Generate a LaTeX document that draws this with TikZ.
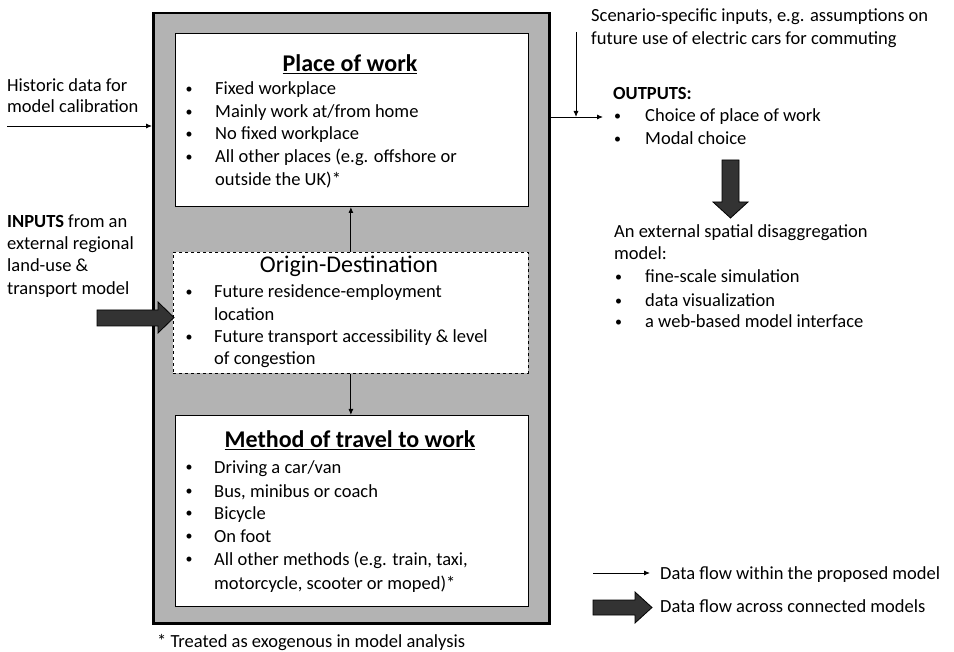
\documentclass[tikz,border=0pt]{standalone}
\usepackage{fontspec}
\setmainfont{Carlito}
\usetikzlibrary{arrows.meta}
\definecolor{boxgray}{HTML}{B3B3B3}
\definecolor{bigarr}{HTML}{333333}
\begin{document}
\begin{tikzpicture}[x=1pt,y=-1pt,
 txt/.style={anchor=base west, inner sep=0pt, font=\fontsize{18.5}{22}\selectfont},
 bul/.style={anchor=base west, inner sep=0pt, yshift=1.2pt, xshift=1pt, font=\fontsize{14}{16}\selectfont},
 ttl/.style={anchor=base, inner sep=0pt, font=\fontsize{24}{28}\selectfont\bfseries},
 ttlr/.style={anchor=base, inner sep=0pt, font=\fontsize{24}{28}\selectfont},
 arr/.style={-{Latex[length=6pt,width=5pt]}, line width=0.9pt},
 bigarrow/.style={fill=bigarr, draw=black, line width=0.8pt},
 outerbox/.style={draw=black, fill=boxgray, line width=2.5pt, anchor=north west, inner sep=0pt},
 innerbox/.style={draw=black, fill=white, line width=1pt, anchor=north west, inner sep=0pt},
 dashbox/.style={draw=black, fill=white, line width=0.8pt, dashed, anchor=north west, inner sep=0pt}]
\useasboundingbox (0,0) rectangle (954,652);

% main boxes
\node[outerbox, minimum width=396pt, minimum height=610pt] (outer) at (152,12) {};
\node[innerbox, minimum width=353pt, minimum height=173pt] (pow) at (175,33) {};
\node[dashbox, minimum width=355pt, minimum height=121pt] (od) at (173,252) {};
\node[innerbox, minimum width=353pt, minimum height=191pt] (mtw) at (175,415) {};

% Place of work
\node[ttl] (powt) at (350,72) {\underline{Place of work}};
\node[bul] (pb1) at (184.5,95) {•};
\node[txt] (p1) at (215,95) {Fixed workplace};
\node[bul] (pb2) at (184.5,118) {•};
\node[txt] (p2) at (215,118) {Mainly work at/from home};
\node[bul] (pb3) at (184.5,140) {•};
\node[txt] (p3) at (215,140) {No fixed workplace};
\node[bul] (pb4) at (184.5,163) {•};
\node[txt] (p4) at (215,163) {All other places (e.g. offshore or};
\node[txt] (p5) at (215,186) {outside the UK)*};

% Origin-Destination
\node[ttlr] (odt) at (349,273) {Origin-Destination};
\node[bul] (ob1) at (184.5,298) {•};
\node[txt] (o1) at (214,298) {Future residence-employment};
\node[txt] (o2) at (214,321) {location};
\node[bul] (ob2) at (184.5,343) {•};
\node[txt] (o3) at (214,343) {Future transport accessibility \& level};
\node[txt] (o4) at (214,365) {of congestion};

% Method of travel
\node[ttl] (mtwt) at (350,448) {\underline{Method of travel to work}};
\node[bul] (mb1) at (184.5,473) {•};
\node[txt] (m1) at (214,473) {Driving a car/van};
\node[bul] (mb2) at (184.5,497) {•};
\node[txt] (m2) at (214,497) {Bus, minibus or coach};
\node[bul] (mb3) at (184.5,519) {•};
\node[txt] (m3) at (214,519) {Bicycle};
\node[bul] (mb4) at (184.5,542) {•};
\node[txt] (m4) at (214,542) {On foot};
\node[bul] (mb5) at (184.5,565) {•};
\node[txt] (m5) at (214,565) {All other methods (e.g. train, taxi,};
\node[txt] (m6) at (214,589) {motorcycle, scooter or moped)*};

% inner arrows
\draw[arr] (od.north) -- (od.north |- pow.south);
\draw[arr] (od.south) -- (od.south |- mtw.north);

% footnote
\node[txt] (fn) at (157,647) {* Treated as exogenous in model analysis};

% Historic data
\node[txt] (h1) at (7,92) {Historic data for};
\node[txt] (h2) at (7,113) {model calibration};
\coordinate (h0) at (7,126);
\draw[arr] (h0) -- (h0 -| outer.west);

% Inputs
\node[txt] (i1) at (7,228) {\textbf{INPUTS} from an};
\node[txt] (i2) at (7,250) {external regional};
\node[txt] (i3) at (7,272) {land-use \&};
\node[txt] (i4) at (7,295) {transport model};
\draw[bigarrow] (97,310) -- (158,310) -- (158,302) -- (174,317.5) -- (158,333) -- (158,326) -- (97,326) -- cycle;

% Scenario and outputs
\node[txt] (s1) at (591,22) {Scenario-specific inputs, e.g. assumptions on};
\node[txt] (s2) at (591,45) {future use of electric cars for commuting};
\coordinate (sc) at (576,32);
\coordinate (oe) at (603,117);
\draw[arr] (sc) -- (sc |- oe);
\draw[arr] (outer.east |- oe) -- (oe);

\node[txt] (out) at (613,100) {\textbf{OUTPUTS:}};
\node[bul] (ub1) at (613,122) {•};
\node[txt] (u1) at (645,122) {Choice of place of work};
\node[bul] (ub2) at (613,145) {•};
\node[txt] (u2) at (645,145) {Modal choice};

\draw[bigarrow] (722,160) -- (739,160) -- (739,202) -- (748,202) -- (730.5,218) -- (713,202) -- (722,202) -- cycle;

\node[txt] (e1) at (614,238) {An external spatial disaggregation};
\node[txt] (e2) at (614,260) {model:};
\node[bul] (eb1) at (614,283) {•};
\node[txt] (e3) at (645,283) {fine-scale simulation};
\node[bul] (eb2) at (614,307) {•};
\node[txt] (e4) at (645,307) {data visualization};
\node[bul] (eb3) at (614,328) {•};
\node[txt] (e5) at (645,328) {a web-based model interface};

% legend
\coordinate (l0) at (593,573);
\coordinate (l1) at (650,573);
\draw[arr] (l0) -- (l1);
\node[txt] (lt1) at (660,579) {Data flow within the proposed model};
\draw[bigarrow] (593,600) -- (635,600) -- (635,592) -- (652,607.5) -- (635,623) -- (635,615) -- (593,615) -- cycle;
\node[txt] (lt2) at (660,612) {Data flow across connected models};
\end{tikzpicture}
\end{document}
